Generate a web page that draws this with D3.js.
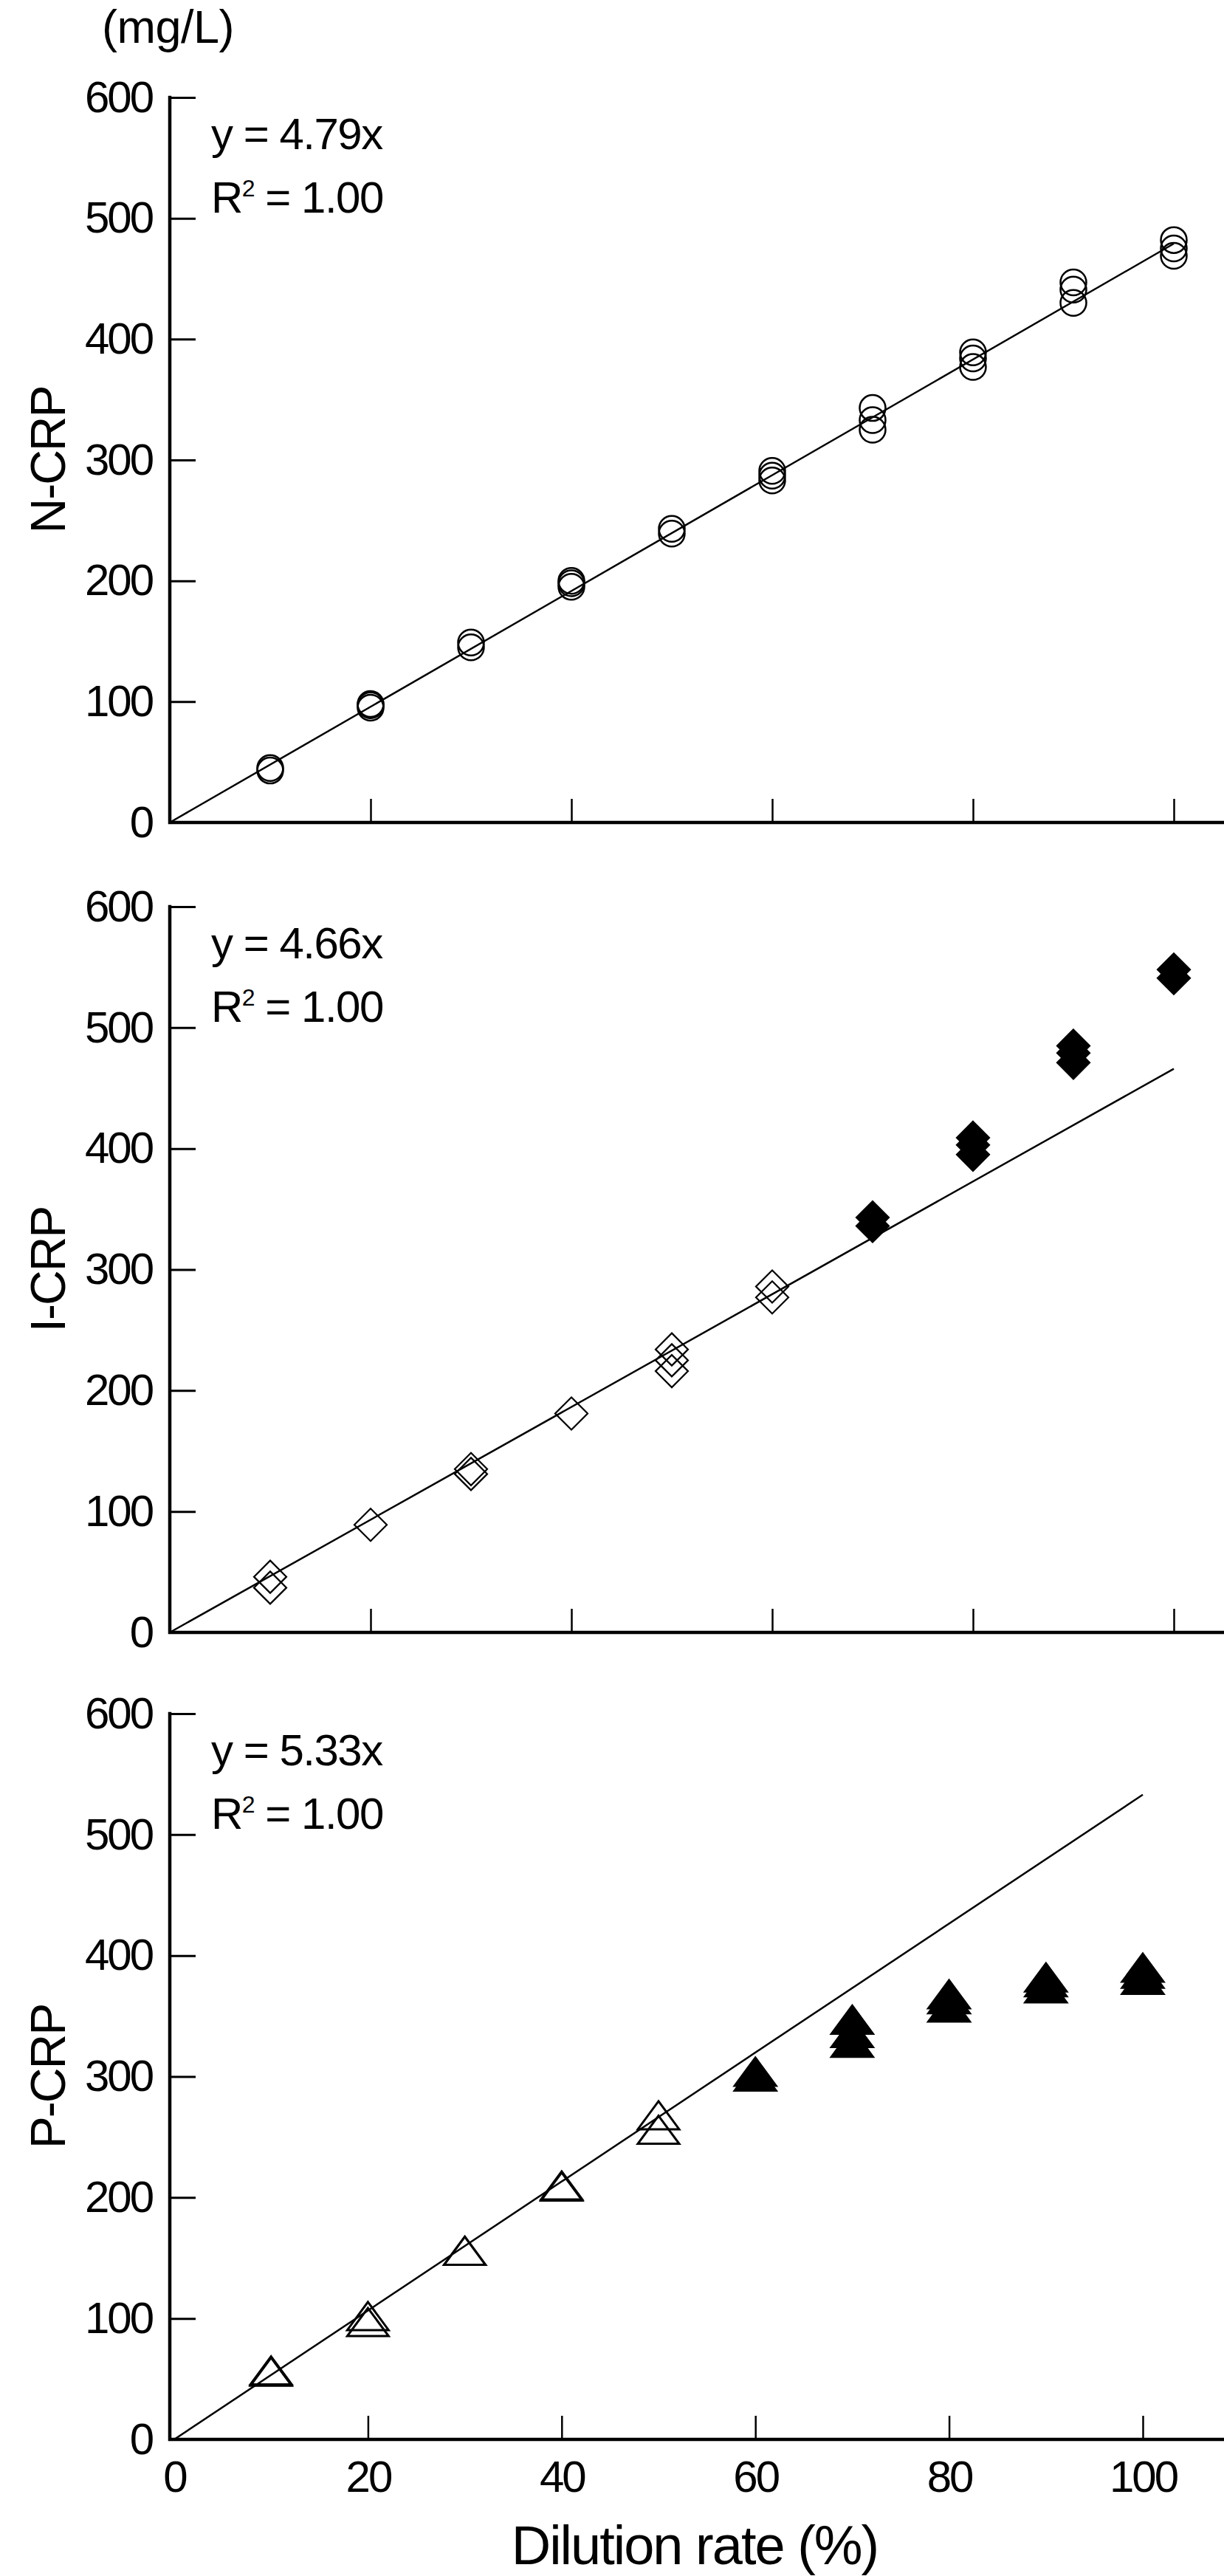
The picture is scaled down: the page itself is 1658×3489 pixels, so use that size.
<!DOCTYPE html>
<html><head><meta charset="utf-8">
<script src="https://cdn.jsdelivr.net/npm/d3@7"></script>
<style>
body{margin:0;background:#fff}
text{font-family:"Liberation Sans",Arial,Helvetica,sans-serif;fill:#000}
</style>
</head><body>
<svg id="chart" width="1658" height="3489"></svg>
<script>
// ---------- data ----------
const panelNames = ["N-CRP", "I-CRP", "P-CRP"];
const slopeLabels = ["4.79", "4.66", "5.33"];
const slopeValues = [4.79, 4.66, 5.33];
const rSquaredLabels = ["1.00", "1.00", "1.00"];
const lineEndX = [100, 100, 100];
const yTicks = [0, 100, 200, 300, 400, 500, 600];
const xTicks = [0, 20, 40, 60, 80, 100];
const xTickLabels = ["0", "20", "40", "60", "80", "100"];
const yUnit = "(mg/L)";
const xTitle = "Dilution rate (%)";

// N-CRP (open circles)
const nX = [10,10,20,20,20,30,30,40,40,40,50,50,60,60,60,70,70,70,80,80,80,90,90,90,100,100,100];
const nY = [43,45,97,95,98,149,145,200,195,198,243,239,291,287,283,343,333,325,389,384,377,447,441,430,482,475,469];
// I-CRP open diamonds / filled diamonds
const iOpenX = [10,10,20,30,30,40,50,50,50,60,60];
const iOpenY = [46,37,89,135,131,181,234,225,216,286,277];
const iFilledX = [70,70,80,80,80,90,90,90,100,100];
const iFilledY = [343,336,409,403,395,485,479,471,548,541];
// P-CRP open triangles / filled triangles
const pOpenX = [10,10,20,20,30,30,40,40,50,50];
const pOpenY = [57,56,102,97,156,156,210,209,268,256];
const pFilledX = [60,60,70,70,70,80,80,80,90,90,90,100,100,100];
const pFilledY = [304,300,347,336,328,368,364,357,382,378,373,390,385,380];

// ---------- layout ----------
const svg = d3.select("#chart");
const panels = [
  {top:132, bottom:1114, x0:230, x100:1590},
  {top:1228, bottom:2211, x0:230, x100:1590},
  {top:2321, bottom:3304, x0:236, x100:1548}
];
const axisLeftX = 230, axisRightEnd = 1656;

const symbolSets = [
  [{xs:nX, ys:nY, shape:"circle", filled:false}],
  [{xs:iOpenX, ys:iOpenY, shape:"diamond", filled:false},
   {xs:iFilledX, ys:iFilledY, shape:"diamond", filled:true}],
  [{xs:pOpenX, ys:pOpenY, shape:"triangle", filled:false},
   {xs:pFilledX, ys:pFilledY, shape:"triangle", filled:true}]
];

function shapePath(shape){
  if(shape==="diamond") return "M0,-22L22,0L0,22L-22,0Z";
  if(shape==="triangle") return "M0,-19L28,19L-28,19Z";
  return null;
}

panels.forEach((p, i) => {
  const x = d3.scaleLinear().domain([0,100]).range([p.x0, p.x100]);
  const y = d3.scaleLinear().domain([0,600]).range([p.bottom, p.top]);
  const g = svg.append("g");

  // y axis ticks + labels
  const ya = g.append("g").attr("transform", `translate(${axisLeftX},0)`)
    .call(d3.axisLeft(y).tickValues(yTicks).tickSize(-35).tickSizeOuter(0).tickPadding(24).tickFormat(d3.format("d")));
  ya.select(".domain").remove();
  ya.selectAll(".tick line").attr("stroke","#000").attr("stroke-width",3);
  ya.selectAll(".tick text").attr("font-size",60).attr("letter-spacing",-3)
    .attr("font-family",'"Liberation Sans",Arial,sans-serif').attr("fill","#000");

  // x axis ticks (+ labels on bottom panel)
  const xa = g.append("g").attr("transform", `translate(0,${p.bottom})`)
    .call(d3.axisBottom(x).tickValues(xTicks).tickSize(-32).tickSizeOuter(0).tickPadding(28)
      .tickFormat((d, k) => i === 2 ? xTickLabels[k] : ""));
  xa.select(".domain").remove();
  xa.selectAll(".tick line").attr("stroke","#000").attr("stroke-width",2.5)
    .attr("opacity", d => d === 0 ? 0 : 1);
  xa.selectAll(".tick text").attr("font-size",60).attr("letter-spacing",-3)
    .attr("font-family",'"Liberation Sans",Arial,sans-serif').attr("fill","#000");

  // axis lines
  g.append("path")
    .attr("d", `M${axisLeftX},${y(600)}L${axisLeftX},${y(0)}L${axisRightEnd},${y(0)}`)
    .attr("fill","none").attr("stroke","#000").attr("stroke-width",4.5).attr("stroke-linecap","square");

  // regression line
  g.append("line")
    .attr("x1", x(0)).attr("y1", y(0))
    .attr("x2", x(lineEndX[i])).attr("y2", y(slopeValues[i]*lineEndX[i]))
    .attr("stroke","#000").attr("stroke-width",2.5);

  // markers
  symbolSets[i].forEach(set => {
    const pts = set.xs.map((v,k) => [v, set.ys[k]]);
    if(set.shape === "circle"){
      g.selectAll(null).data(pts).enter().append("circle")
        .attr("cx", d => x(d[0])).attr("cy", d => y(d[1])).attr("r", 17.5)
        .attr("fill","none").attr("stroke","#000").attr("stroke-width",2.5);
    } else {
      g.selectAll(null).data(pts).enter().append("path")
        .attr("d", shapePath(set.shape))
        .attr("transform", d => `translate(${x(d[0])},${y(d[1])})`)
        .attr("fill", set.filled ? "#000" : "none")
        .attr("stroke","#000").attr("stroke-width", set.shape==="triangle" ? 3 : 2.2)
        .attr("stroke-linejoin","miter");
    }
  });

  // equation annotation
  const ann = g.append("g").attr("transform", `translate(286,${p.top})`);
  ann.append("text").attr("y",70).attr("font-size",60).attr("letter-spacing",-1.5).text(`y = ${slopeLabels[i]}x`);
  const r = ann.append("text").attr("y",156).attr("font-size",60).attr("letter-spacing",-1.5);
  r.append("tspan").text("R");
  r.append("tspan").attr("font-size",32).attr("dy",-22).text("2");
  r.append("tspan").attr("dy",22).text(` = ${rSquaredLabels[i]}`);

  // y axis title
  g.append("text")
    .attr("transform", `translate(88,${(p.top+p.bottom)/2}) rotate(-90)`)
    .attr("text-anchor","middle").attr("font-size",66).attr("letter-spacing",-2)
    .text(panelNames[i]);
});

// unit label
svg.append("text").attr("x",138).attr("y",58).attr("font-size",63).attr("letter-spacing",-0.5).text(yUnit);
// x title
svg.append("text").attr("x",941).attr("y",3473).attr("text-anchor","middle")
  .attr("font-size",74).attr("letter-spacing",-2).text(xTitle);
</script>
</body></html>
